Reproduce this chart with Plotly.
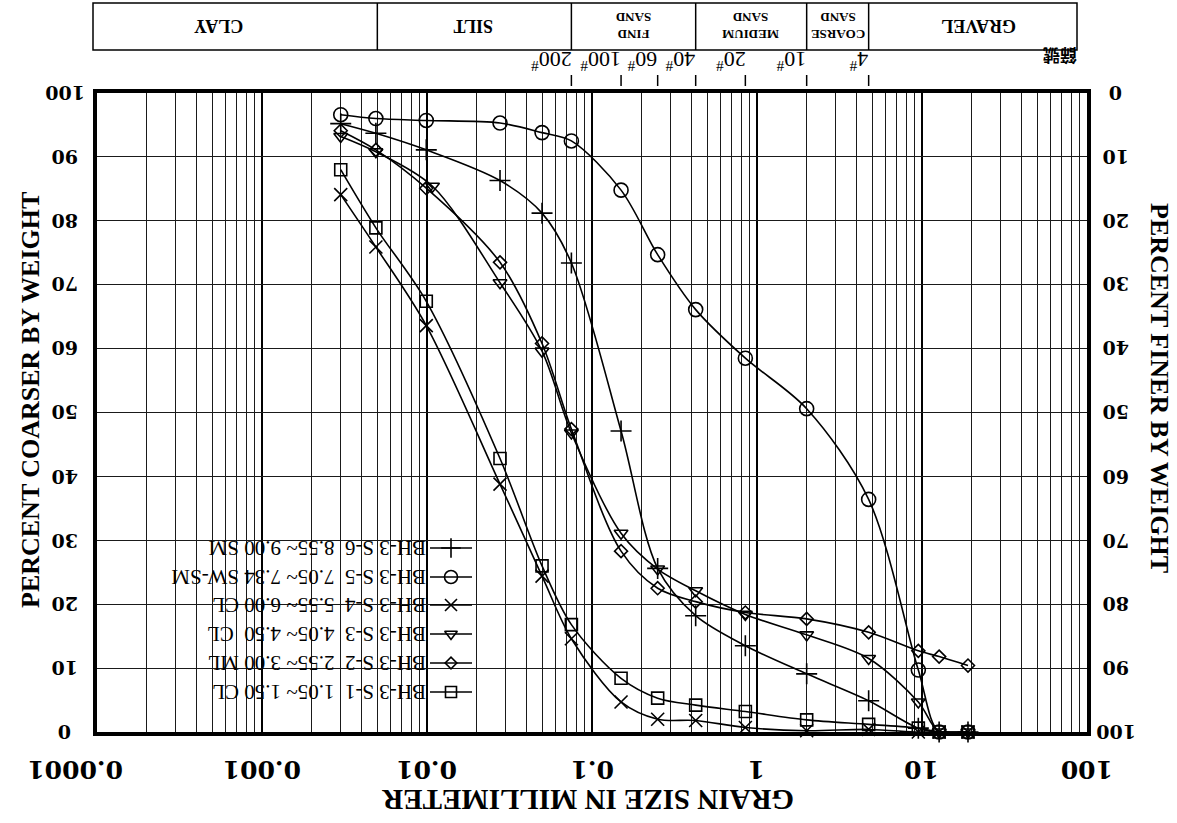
import math
import plotly.graph_objects as go

# ---------------- data (grain size in mm, percent finer by weight) ----------------
D_HYD = [0.003, 0.0049, 0.0099, 0.0277, 0.0498]
D_HYD_S3 = [0.003, 0.0049, 0.0108, 0.0277, 0.0498]
D_SIEVE = [0.075, 0.15, 0.25, 0.425, 0.85, 2.0, 4.75, 9.5, 12.7, 19.0]

S1_FINER = [12.0, 21.1, 32.6, 57.2, 74.0, 83.2, 91.6, 94.7, 95.8, 96.8, 98.1, 98.8, 99.4, 100, 100]
S2_FINER = [5.9, 8.9, 14.9, 26.5, 39.2, 52.6, 71.7, 77.5, 79.6, 81.3, 82.3, 84.4, 87.3, 88.2, 89.6]
S3_FINER = [6.8, 9.2, 14.6, 29.7, 40.4, 53.2, 68.9, 74.5, 77.9, 81.6, 84.8, 88.5, 95.3, 100, 100]
S4_FINER = [15.9, 24.1, 36.4, 61.2, 75.6, 85.4, 95.3, 98.0, 98.2, 99.3, 99.8, 99.6, 100, 100, 100]
S5_FINER = [3.4, 4.0, 4.3, 4.7, 6.2, 7.5, 15.2, 25.3, 33.9, 41.5, 49.4, 63.6, 90.3, 100, 100]
S6_FINER = [4.8, 6.3, 8.9, 13.7, 18.8, 26.6, 52.9, 74.4, 81.8, 86.5, 90.9, 95.1, 99.4, 100, 100]

SERIES_NAMES = [
    "BH-3 S-1\u00a0\u00a01.05~\u00a01.50 CL",
    "BH-3 S-2\u00a0\u00a02.55~\u00a03.00 ML",
    "BH-3 S-3\u00a0\u00a04.05~\u00a04.50\u00a0\u00a0CL",
    "BH-3 S-4\u00a0\u00a05.55~\u00a06.00 CL",
    "BH-3 S-5\u00a0\u00a07.05~\u00a07.34 SW-SM",
    "BH-3 S-6\u00a0\u00a08.55~\u00a09.00 SM",
]
SERIES_D = [D_HYD + D_SIEVE, D_HYD + D_SIEVE, D_HYD_S3 + D_SIEVE,
            D_HYD + D_SIEVE, D_HYD + D_SIEVE, D_HYD + D_SIEVE]
SERIES_FINER = [S1_FINER, S2_FINER, S3_FINER, S4_FINER, S5_FINER, S6_FINER]

X_TICKS = [0.0001, 0.001, 0.01, 0.1, 1, 10, 100]
X_TICK_TEXT = ["0.0001", "0.001", "0.01", "0.1", "1", "10", "100"]
PCT_TICKS = [0, 10, 20, 30, 40, 50, 60, 70, 80, 90, 100]

SOIL_BOUNDS = [0.005, 0.075, 0.425, 2.0, 4.75]
SOIL_LABELS = ["CLAY", "SILT", "FIND<br>SAND", "MEDIUM<br>SAND", "COARSE<br>SAND", "GRAVEL"]
SOIL_LABEL_POS = [0.00055, 0.019, 0.18, 0.92, 3.1, 22.0]
SIEVE_SIZES = [0.075, 0.15, 0.25, 0.425, 0.85, 2.0, 4.75]
SIEVE_LABELS = ["200", "100", "60", "40", "20", "10", "4"]

# ---------------- styling ----------------
W, H = 1177, 823
L, R, T, B = 97, 1087, 93, 732
SERIF = "Liberation Serif"
WIDE_SERIF = "DejaVu Serif"
SYMBOLS = ["square-open", "diamond-open", "triangle-down-open", "x-thin-open", "circle-open", "cross-thin-open"]
SIZES = [12, 10, 12, 13, 14, 15]
LEG_ROWS = [692, 663, 634, 605, 577, 548]   # pixel rows of the (upside-down) key


def px(x):
    return (x - L) / (R - L)


def py(y):
    return (B - y) / (B - T)


def note(**kw):
    base = dict(showarrow=False, xanchor="center", yanchor="middle", textangle=180)
    base.update(kw)
    return base


fig = go.Figure()
for d, finer, sym, size in zip(SERIES_D, SERIES_FINER, SYMBOLS, SIZES):
    fig.add_trace(go.Scatter(
        x=d, y=finer, mode="lines+markers", showlegend=False, cliponaxis=False,
        line=dict(color="black", width=1.6, shape="spline", smoothing=0.9),
        marker=dict(symbol=sym, size=size, color="black", line=dict(color="black", width=1.6)),
    ))

# key samples (line + marker) on a pixel-space overlay
for row, sym, size in zip(LEG_ROWS, SYMBOLS, SIZES):
    fig.add_trace(go.Scatter(
        x=[430, 472], y=[row, row], xaxis="x2", yaxis="y2", mode="lines",
        line=dict(color="black", width=1.6), showlegend=False, hoverinfo="skip"))
    fig.add_trace(go.Scatter(
        x=[451], y=[row], xaxis="x2", yaxis="y2", mode="markers",
        marker=dict(symbol=sym, size=size - 1, color="black", line=dict(color="black", width=1.6)),
        showlegend=False, hoverinfo="skip"))

ann = []
tick_font = dict(family=WIDE_SERIF, size=19, color="black")
for v in PCT_TICKS:
    ann.append(note(xref="paper", yref="y", x=px(65), y=v, text="<b>%d</b>" % (100 - v), font=tick_font))
    ann.append(note(xref="paper", yref="y", x=px(1116), y=v, text="<b>%d</b>" % v, font=tick_font))
for i, (v, t) in enumerate(zip(X_TICKS, X_TICK_TEXT)):
    ann.append(note(xref="x", yref="paper", x=math.log10(v), y=py(770), text="<b>%s</b>" % t,
                    xshift=-22 if i == 0 else 0,
                    font=dict(family=WIDE_SERIF, size=25, color="black")))

# axis titles
ann.append(note(xref="paper", yref="paper", x=px(30), y=py(400), text="<b>PERCENT COARSER BY WEIGHT</b>",
                textangle=-90, font=dict(family=SERIF, size=26, color="black")))
ann.append(note(xref="paper", yref="paper", x=px(1160), y=py(388), text="<b>PERCENT FINER BY WEIGHT</b>",
                textangle=90, font=dict(family=SERIF, size=26, color="black")))
ann.append(note(xref="paper", yref="paper", x=px(588), y=py(800), text="<b>GRAIN SIZE IN MILLIMETER</b>",
                font=dict(family=SERIF, size=29, color="black")))

# soil class header
for pos, lab in zip(SOIL_LABEL_POS, SOIL_LABELS):
    small = "<br>" in lab
    ann.append(note(xref="x", yref="paper", x=math.log10(pos), y=py(26), text="<b>%s</b>" % lab,
                    font=dict(family=SERIF, size=13 if small else 18, color="black")))
for s, lab in zip(SIEVE_SIZES, SIEVE_LABELS):
    ann.append(note(xref="x", yref="paper", x=math.log10(s), y=py(61), text="%s<sup>#</sup>" % lab,
                    xanchor="right", xshift=2, font=dict(family=SERIF, size=22, color="black")))
ann.append(note(xref="paper", yref="paper", x=px(1060), y=py(57), text="<b>篩號</b>",
                font=dict(family="Noto Sans CJK TC", size=17, color="black")))

# key texts
for row, name in zip(LEG_ROWS, SERIES_NAMES):
    ann.append(note(xref="paper", yref="paper", x=px(428), y=py(row), text=name, xanchor="right",
                    font=dict(family=SERIF, size=21, color="black")))

shapes = []
shapes.append(dict(type="rect", xref="paper", yref="paper", x0=px(149), x1=px(484), y0=py(712), y1=py(533),
                   fillcolor="white", line=dict(width=0), layer="between"))
shapes.append(dict(type="rect", xref="paper", yref="paper", x0=px(93), x1=px(1077), y0=py(50), y1=py(3),
                   line=dict(color="black", width=1.5), fillcolor="rgba(0,0,0,0)"))
for bnd in SOIL_BOUNDS:
    shapes.append(dict(type="line", xref="x", yref="paper", x0=bnd, x1=bnd, y0=py(50), y1=py(3),
                       line=dict(color="black", width=1.5)))
for s in SIEVE_SIZES:
    shapes.append(dict(type="line", xref="x", yref="paper", x0=s, x1=s, y0=py(86), y1=py(75),
                       line=dict(color="black", width=1.5)))

fig.update_layout(
    width=W, height=H, margin=dict(l=L, r=W - R, t=T, b=H - B, autoexpand=False),
    paper_bgcolor="white", plot_bgcolor="white",
    annotations=ann, shapes=shapes,
    xaxis=dict(type="log", range=[-4, 2], dtick=1, showticklabels=False, ticks="",
               showgrid=True, gridcolor="black", gridwidth=2.4, zeroline=False,
               showline=True, linecolor="black", linewidth=3.5, mirror=True,
               minor=dict(dtick="D1", showgrid=True, gridcolor="#1a1a1a", gridwidth=1.1, ticks="")),
    yaxis=dict(range=[100, 0], dtick=10, showticklabels=False, ticks="",
               showgrid=True, gridcolor="#1a1a1a", gridwidth=1.1, zeroline=False,
               showline=True, linecolor="black", linewidth=3.5, mirror=True),
    xaxis2=dict(overlaying="x", range=[L, R], visible=False, fixedrange=True),
    yaxis2=dict(overlaying="y", range=[B, T], visible=False, fixedrange=True),
)

fig.write_html("out.html", config={"displayModeBar": False},
               post_script="document.body.style.margin='0';")
